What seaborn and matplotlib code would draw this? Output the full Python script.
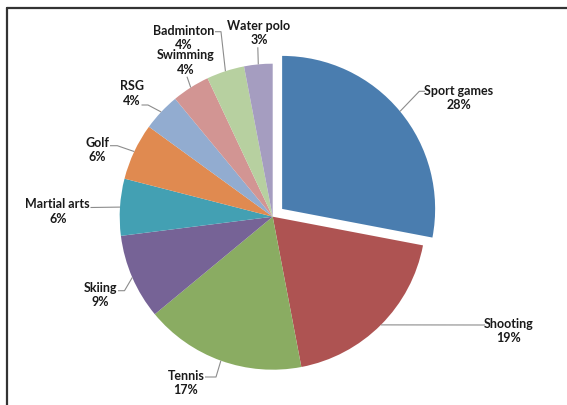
import numpy as np
import matplotlib
matplotlib.use("Agg")
import matplotlib.pyplot as plt
import seaborn as sns
from matplotlib.lines import Line2D

# ---- data ----
categories = ["Sport games", "Shooting", "Tennis", "Skiing", "Martial arts",
              "Golf", "RSG", "Swimming", "Badminton", "Water polo"]
shares = [28, 19, 17, 9, 6, 6, 4, 4, 4, 3]
pct_labels = ["28%", "19%", "17%", "9%", "6%", "6%", "4%", "4%", "4%", "3%"]
colors = ["#4A7DAF", "#AE5352", "#8AAC62", "#766396", "#43A0B3",
          "#E08A50", "#92ACD0", "#D29593", "#B7D0A0", "#A59DC0"]
explode = [0.08, 0, 0, 0, 0, 0, 0, 0, 0, 0]

# ---- layout (pixels in a 567x406 canvas) ----
W, H = 567, 406
CX, CY, R = 272.7, 217.7, 153.0
text_pos = [(458.5, 98), (509, 331), (186, 383), (100.4, 295), (57.8, 211.7),
            (97.5, 150), (131.8, 93.5), (186, 62.5), (184, 38), (259, 33)]
leader_pts = [[(419.3, 92.3), (425, 92.3)],
              [(485, 326)],
              [(216, 378), (205, 378)],
              [(124.5, 291.7), (118, 291.7)],
              [(90.5, 208.5)],
              [(117.3, 146.7), (110, 146.7)],
              [(148, 106), (141.5, 106)],
              [(187, 77.7)],
              [(221, 32.7), (215, 32.7)],
              [(257.8, 48.3)]]

sns.set_theme(style="white")
plt.rcParams["font.family"] = ["Lato", "DejaVu Sans"]

fig = plt.figure(figsize=(W / 100, H / 100), dpi=100)
ax = fig.add_axes([0, 0, 1, 1])
palette = sns.color_palette(colors)

wedges, _ = ax.pie(shares, colors=palette, startangle=90, counterclock=False,
                   explode=explode, radius=1.0, center=(0, 0),
                   wedgeprops=dict(linewidth=0))

ax.set_aspect("auto")
ax.set_xlim(-CX / R, (W - CX) / R)
ax.set_ylim(-(H - CY) / R, CY / R)
ax.axis("off")


def px2d(p):
    return ((p[0] - CX) / R, (CY - p[1]) / R)


for i, w in enumerate(wedges):
    mid = np.deg2rad((w.theta1 + w.theta2) / 2)
    cx, cy = w.center
    start = (cx + w.r * np.cos(mid), cy + w.r * np.sin(mid))
    pts = [start] + [px2d(p) for p in leader_pts[i]]
    xs, ys = zip(*pts)
    ax.plot(xs, ys, color="#8C8C8C", lw=0.8, solid_capstyle="butt")
    tx, ty = px2d(text_pos[i])
    ax.text(tx, ty, f"{categories[i]}\n{pct_labels[i]}", ha="center",
            va="center", fontsize=9, fontweight="bold", color="#1A1A1A",
            linespacing=1.25)

# chart-area border (top and left visible)
fig.add_artist(Line2D([6.5 / W, 1.0], [1 - 8.7 / H, 1 - 8.7 / H],
                      transform=fig.transFigure, color="#333333", lw=1.6))
fig.add_artist(Line2D([6.5 / W, 6.5 / W], [0, 1 - 8.7 / H],
                      transform=fig.transFigure, color="#333333", lw=1.6))

fig.savefig("out.png", dpi=100, facecolor="white")
